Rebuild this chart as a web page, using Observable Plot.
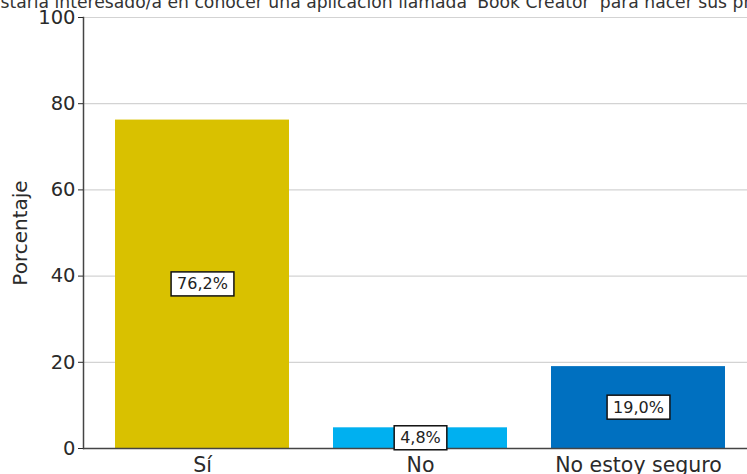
<!DOCTYPE html>
<html><head><meta charset="utf-8">
<script src="https://cdn.jsdelivr.net/npm/d3@7"></script>
<script src="https://cdn.jsdelivr.net/npm/@observablehq/plot@0.6"></script>
<style>html,body{margin:0;padding:0;background:#fff;overflow:hidden;width:747px;height:474px}</style>
</head><body><div id="chart"></div>
<script>
const categories = ["Sí", "No", "No estoy seguro"];
const values = [76.2, 4.8, 19.0];
const colors = ["#D9C100", "#00B0F0", "#0070C0"];
const yTicks = [0, 20, 40, 60, 80, 100];
const title = "¿Estaría interesado/a en conocer una aplicación llamada 'Book Creator' para hacer sus proyectos?";
const yLabel = "Porcentaje";
const data = categories.map((c, i) => ({cat: c, value: values[i], label: values[i].toFixed(1).replace(".", ",") + "%"}));
const labelTexts = data.map(d => d.label);

const plot = Plot.plot({
  width: 757, height: 474, marginTop: 17, marginBottom: 26, marginLeft: 83, marginRight: 0,
  style: {fontFamily: "DejaVu Sans", background: "#fff", maxWidth: "none", overflow: "visible"},
  x: {domain: categories, paddingInner: 0.2, paddingOuter: 0.142, label: null},
  y: {domain: [0, 100], label: null},
  color: {domain: categories, range: colors},
  marks: [
    Plot.ruleY(yTicks, {stroke: "#d3d3d3", strokeWidth: 1.2}),
    Plot.barY(data, {x: "cat", y: "value", fill: "cat"}),
    Plot.frame({anchor: "left", stroke: "#444", strokeWidth: 1.5}),
    Plot.ruleY([0], {stroke: "#444", strokeWidth: 1.5}),
    Plot.axisY({ticks: yTicks, tickSize: 5, tickPadding: 3, fontSize: 19.5, color: "#2a2a2a", label: null, tickFormat: d => String(d)}),
    Plot.axisX({tickSize: 0, tickPadding: 9, fontSize: 20.5, color: "#2a2a2a", label: null}),
    Plot.text(data, {x: "cat", y: d => d.value / 2, text: "label", fontSize: 16, fill: "#222"}),
    Plot.text([title], {text: d => d, frameAnchor: "top-left", dx: -103, dy: -10, textAnchor: "start", lineAnchor: "bottom", fontSize: 17.2, fill: "#333"}),
    Plot.text([yLabel], {text: d => d, frameAnchor: "left", dx: -63, rotate: -90, textAnchor: "middle", lineAnchor: "middle", fontSize: 20, fill: "#2a2a2a"})
  ]
});
document.getElementById("chart").appendChild(plot);
d3.select(plot).selectAll("text").filter(function() {
  return labelTexts.includes(this.textContent);
}).each(function() {
  const bb = this.getBBox();
  const padX = 6, padY = 2.5;
  const r = document.createElementNS("http://www.w3.org/2000/svg", "rect");
  r.setAttribute("x", bb.x - padX);
  r.setAttribute("y", bb.y - padY);
  r.setAttribute("width", bb.width + 2 * padX);
  r.setAttribute("height", bb.height + 2 * padY);
  const t = this.getAttribute("transform");
  if (t) r.setAttribute("transform", t);
  r.setAttribute("fill", "#fff");
  r.setAttribute("stroke", "#111");
  r.setAttribute("stroke-width", 1.5);
  this.parentNode.insertBefore(r, this);
});
</script></body></html>
